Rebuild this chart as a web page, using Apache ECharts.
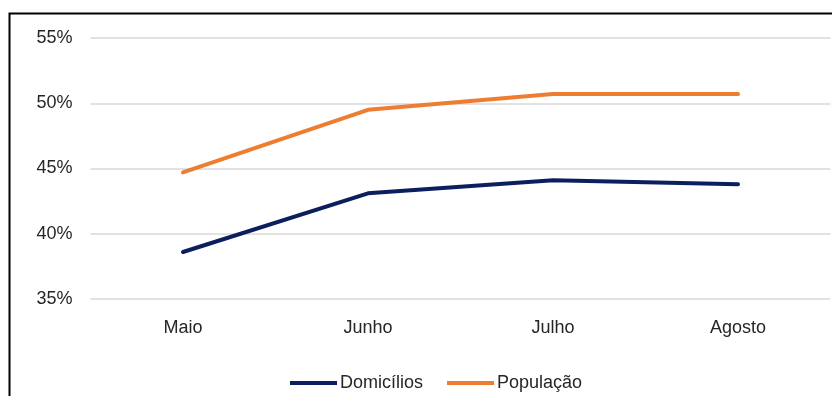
<!DOCTYPE html>
<html>
<head>
<meta charset="utf-8">
<script src="https://cdn.jsdelivr.net/npm/echarts@6/dist/echarts.min.js"></script>
<style>
html,body{margin:0;padding:0;background:#fff;}
#chart{width:832px;height:396px;}
</style>
</head>
<body>
<div id="chart"></div>
<script>
var categories = ['Maio', 'Junho', 'Julho', 'Agosto'];
var domicilios = [38.6, 43.1, 44.1, 43.8];
var populacao = [44.7, 49.5, 50.7, 50.7];
var seriesNames = ['Domicílios', 'População'];

var chart = echarts.init(document.getElementById('chart'), null, {renderer: 'canvas'});
var font = '"Liberation Sans", Arial, sans-serif';
var textColor = '#262626';
chart.setOption({
  animation: false,
  backgroundColor: '#ffffff',
  graphic: [{
    type: 'rect',
    shape: {x: 9.5, y: 13.5, width: 840, height: 420},
    style: {fill: 'none', stroke: '#000', lineWidth: 2},
    z: 100
  }],
  legend: {
    data: [
      {name: seriesNames[0], icon: 'rect'},
      {name: seriesNames[1], icon: 'rect'}
    ],
    left: 290,
    top: 374,
    padding: 0,
    itemWidth: 47,
    itemHeight: 4,
    itemGap: 24,
    textStyle: {fontFamily: font, fontSize: 18, color: textColor, padding: [0, 0, 0, -2]}
  },
  grid: {left: 90.5, right: 1.5, top: 38, bottom: 97},
  xAxis: {
    type: 'category',
    data: categories,
    boundaryGap: true,
    axisLine: {show: false},
    axisTick: {show: false},
    axisLabel: {fontFamily: font, fontSize: 18, color: textColor, margin: 20}
  },
  yAxis: {
    type: 'value',
    min: 35,
    max: 55,
    interval: 5,
    axisLine: {show: false},
    axisTick: {show: false},
    splitLine: {lineStyle: {color: '#D9D9D9', width: 1.5}},
    axisLabel: {fontFamily: font, fontSize: 18, color: textColor, margin: 18,
      formatter: function (v) { return v + '%'; }}
  },
  series: [
    {
      name: seriesNames[0],
      type: 'line',
      data: domicilios,
      symbol: 'none',
      color: '#0B1F5E',
      lineStyle: {width: 4, color: '#0B1F5E', cap: 'round', join: 'round'}
    },
    {
      name: seriesNames[1],
      type: 'line',
      data: populacao,
      symbol: 'none',
      color: '#ED7D31',
      lineStyle: {width: 4, color: '#ED7D31', cap: 'round', join: 'round'}
    }
  ]
});
</script>
</body>
</html>
